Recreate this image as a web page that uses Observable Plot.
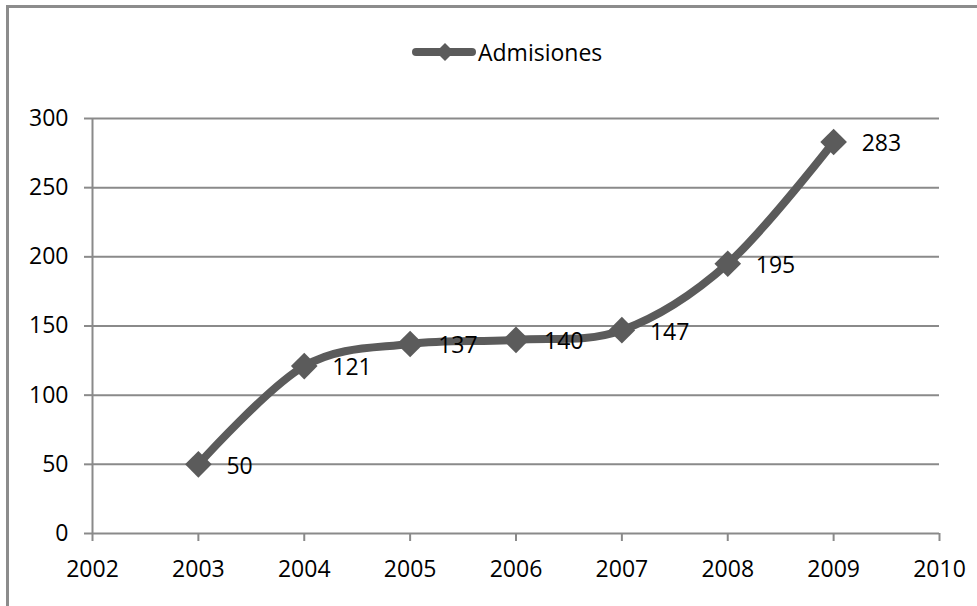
<!DOCTYPE html>
<html>
<head>
<meta charset="utf-8">
<script src="https://cdn.jsdelivr.net/npm/d3@7"></script>
<script src="https://cdn.jsdelivr.net/npm/@observablehq/plot@0.6"></script>
<style>
  html, body { margin: 0; padding: 0; background: #fff; }
  #wrap { position: relative; width: 977px; height: 606px; overflow: hidden; font-family: "Open Sans", sans-serif; }
  #border { position: absolute; left: 6px; top: 5px; width: 990px; height: 620px; border-left: 3px solid #8c8c8c; border-top: 3px solid #8c8c8c; box-sizing: border-box; }
  #legend { position: absolute; left: 410px; top: 36px; height: 32px; display: flex; align-items: center; font-size: 23px; color: #000; }
  #chart { position: absolute; left: 0; top: 0; }
</style>
</head>
<body>
<div id="wrap">
  <div id="border"></div>
  <div id="chart"></div>
  <div id="legend">
    <svg width="66" height="32" style="overflow:visible">
      <line x1="6" y1="16" x2="62" y2="16" stroke="#5b5b5b" stroke-width="8" stroke-linecap="round"></line>
      <path d="M35,7 L44,16 L35,25 L26,16 Z" fill="#5b5b5b"></path>
    </svg>
    <span id="legendText" style="margin-left:2px"></span>
  </div>
</div>
<script>
const seriesName = "Admisiones";
const years = [2003, 2004, 2005, 2006, 2007, 2008, 2009];
const admisiones = [50, 121, 137, 140, 147, 195, 283];
const xTicks = [2002, 2003, 2004, 2005, 2006, 2007, 2008, 2009, 2010];
const yTicks = [0, 50, 100, 150, 200, 250, 300];

document.getElementById("legendText").textContent = seriesName;

const data = years.map((y, i) => ({year: y, value: admisiones[i]}));
const lineColor = "#5b5b5b";
const gridColor = "#8a8a8a";

const chart = Plot.plot({
  width: 977,
  height: 606,
  marginLeft: 92,
  marginRight: 38,
  marginTop: 118,
  marginBottom: 73,
  style: {fontFamily: "Open Sans, sans-serif", fontSize: "23px", color: "#000", background: "transparent", overflow: "visible"},
  x: {type: "linear", domain: [2002, 2010], label: null, axis: null},
  y: {type: "linear", domain: [0, 300], label: null, axis: null},
  marks: [
    Plot.ruleY(yTicks, {stroke: gridColor, strokeWidth: 2}),
    Plot.ruleX([2002], {stroke: gridColor, strokeWidth: 2}),
    Plot.axisY({ticks: yTicks, tickSize: 8, tickPadding: 16, stroke: gridColor, strokeWidth: 2, fill: "#000", fontSize: 23, label: null}),
    Plot.axisX({ticks: xTicks, tickSize: 8, tickPadding: 19, stroke: gridColor, strokeWidth: 2, fill: "#000", fontSize: 23, label: null, tickFormat: d => String(d)}),
    Plot.line(data, {x: "year", y: "value", stroke: lineColor, strokeWidth: 8, curve: "cardinal", tension: 0, strokeLinecap: "round", strokeLinejoin: "round"}),
    Plot.dot(data, {x: "year", y: "value", symbol: "diamond2", r: 12, fill: lineColor, stroke: "none", style: "filter: drop-shadow(1px 3px 2px rgba(0,0,0,0.35))"}),
    Plot.text(data, {x: "year", y: "value", text: d => String(d.value), dx: 28, dy: 2, textAnchor: "start", fontSize: 23, fill: "#000"})
  ]
});
document.getElementById("chart").appendChild(chart);
</script>
</body>
</html>
